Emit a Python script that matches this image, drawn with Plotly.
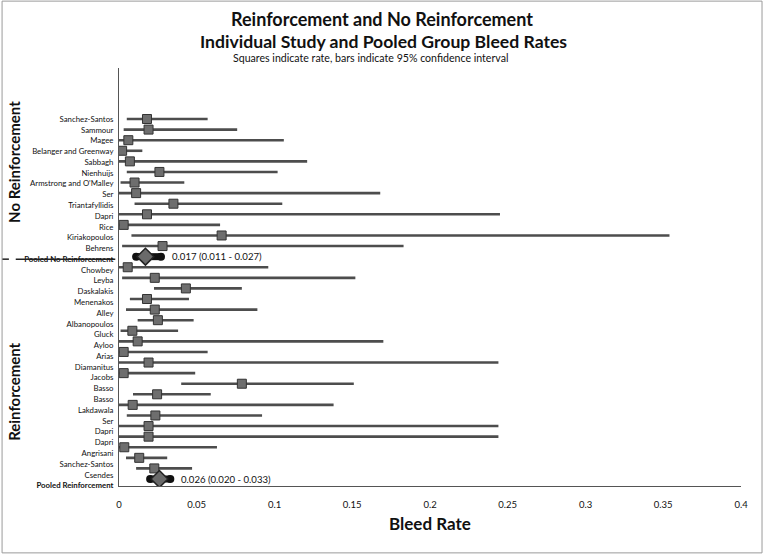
import plotly.graph_objects as go

# No Reinforcement studies (rate, 95% CI)
names_nr = [
    "Sanchez-Santos", "Sammour", "Magee", "Belanger and Greenway", "Sabbagh",
    "Nienhuijs", "Armstrong and O'Malley", "Ser", "Triantafyllidis", "Dapri",
    "Rice", "Kiriakopoulos", "Behrens",
]
rate_nr = [0.018, 0.019, 0.006, 0.002, 0.007, 0.026, 0.010, 0.011, 0.035, 0.018, 0.003, 0.066, 0.028]
lo_nr = [0.005, 0.003, 0.000, 0.000, 0.000, 0.005, 0.001, 0.000, 0.010, 0.000, 0.000, 0.008, 0.002]
hi_nr = [0.057, 0.076, 0.106, 0.015, 0.121, 0.102, 0.042, 0.168, 0.105, 0.245, 0.065, 0.354, 0.183]
pooled_nr = (0.017, 0.011, 0.027)

# Reinforcement studies (rate, 95% CI)
names_r = [
    "Chowbey", "Leyba", "Daskalakis", "Menenakos", "Alley", "Albanopoulos",
    "Gluck", "Ayloo", "Arias", "Diamanitus", "Jacobs", "Basso", "Basso",
    "Lakdawala", "Ser", "Dapri", "Dapri", "Angrisani", "Sanchez-Santos", "Csendes",
]
rate_r = [0.0056, 0.023, 0.043, 0.018, 0.023, 0.025, 0.0086, 0.012, 0.003, 0.019,
          0.003, 0.079, 0.0245, 0.0088, 0.0234, 0.019, 0.019, 0.0034, 0.013, 0.0227]
lo_r = [0.000, 0.002, 0.0225, 0.007, 0.0045, 0.012, 0.001, 0.000, 0.000, 0.000,
        0.000, 0.040, 0.009, 0.000, 0.005, 0.000, 0.000, 0.000, 0.0045, 0.011]
hi_r = [0.096, 0.152, 0.079, 0.045, 0.089, 0.048, 0.038, 0.170, 0.057, 0.244,
        0.049, 0.151, 0.059, 0.138, 0.092, 0.244, 0.244, 0.063, 0.031, 0.047]
pooled_r = (0.026, 0.020, 0.033)

x_ticks = [0, 0.05, 0.1, 0.15, 0.2, 0.25, 0.3, 0.35, 0.4]

FONT = "Lato, 'Open Sans', sans-serif"


def build_figure() -> go.Figure:
    """Forest plot of bleed rates for both groups."""
    labels = names_nr + ["<b>Pooled No Reinforcement</b>"] + names_r + ["<b>Pooled Reinforcement</b>"]
    n = len(labels)

    rows_nr = list(range(len(names_nr)))
    row_pool_nr = len(names_nr)
    rows_r = [row_pool_nr + 1 + i for i in range(len(names_r))]
    row_pool_r = rows_r[-1] + 1

    rows = rows_nr + rows_r
    rates = rate_nr + rate_r
    los = lo_nr + lo_r
    his = hi_nr + hi_r

    # category labels drift slightly below the plotted rows, as in the original
    stretch = (n - 1 + 0.62) / (n - 1)
    tick_pos = [i * stretch for i in range(n)]

    fig = go.Figure()

    # confidence interval bars
    bx, by = [], []
    for r, lo, hi in zip(rows, los, his):
        bx += [lo, hi, None]
        by += [r, r, None]
    fig.add_trace(go.Scatter(x=bx, y=by, mode="lines",
                             line={"color": "#4d4d4d", "width": 2.6}, hoverinfo="skip"))

    # study rates
    fig.add_trace(go.Scatter(
        x=rates, y=rows, mode="markers",
        marker={"symbol": "square", "size": 9, "color": "#6e6e6e",
                "line": {"color": "#333333", "width": 1}},
    ))

    # pooled estimates
    for row, (rate, lo, hi) in [(row_pool_nr, pooled_nr), (row_pool_r, pooled_r)]:
        fig.add_trace(go.Scatter(x=[lo, hi], y=[row, row], mode="lines+markers",
                                 line={"color": "#111111", "width": 7},
                                 marker={"symbol": "circle", "size": 8, "color": "#111111"},
                                 hoverinfo="skip"))
        fig.add_trace(go.Scatter(
            x=[rate], y=[row], mode="markers",
            marker={"symbol": "diamond", "size": 13, "color": "#6a6a6a",
                    "line": {"color": "#222222", "width": 1.5}},
        ))
        fig.add_annotation(x=hi + 0.0055, y=row, xref="x", yref="y",
                           text=f"{rate:.3f} ({lo:.3f} - {hi:.3f})", showarrow=False,
                           xanchor="left", yanchor="middle",
                           font={"size": 9.6, "color": "#111111"})

    # titles
    fig.add_annotation(x=0.423, y=1.117, xref="paper", yref="paper",
                       text="<b>Reinforcement and No Reinforcement</b>", showarrow=False,
                       xanchor="center", yanchor="middle", font={"size": 18})
    fig.add_annotation(x=0.425, y=1.064, xref="paper", yref="paper",
                       text="<b>Individual Study and Pooled Group Bleed Rates</b>", showarrow=False,
                       xanchor="center", yanchor="middle", font={"size": 17.6})
    fig.add_annotation(x=0.404, y=1.024, xref="paper", yref="paper",
                       text="Squares indicate rate, bars indicate 95% confidence interval",
                       showarrow=False, xanchor="center", yanchor="middle", font={"size": 10.6})

    # group titles
    for text, yc in [("No Reinforcement", 0.775), ("Reinforcement", 0.2249)]:
        fig.add_annotation(x=-0.169, y=yc, xref="paper", yref="paper", text=f"<b>{text}</b>",
                           textangle=-90, showarrow=False, xanchor="center", yanchor="middle",
                           font={"size": 15})

    # x axis title
    fig.add_annotation(x=0.5, y=-0.0909, xref="paper", yref="paper", text="<b>Bleed Rate</b>",
                       showarrow=False, xanchor="center", yanchor="middle", font={"size": 17})

    # separator through the pooled no-reinforcement label
    ysep = tick_pos[row_pool_nr]
    fig.add_shape(type="line", xref="paper", yref="y", x0=-0.188, x1=-0.177, y0=ysep, y1=ysep,
                  line={"color": "#222222", "width": 1.5})
    fig.add_shape(type="line", xref="paper", yref="y", x0=-0.166, x1=-0.006, y0=ysep, y1=ysep,
                  line={"color": "#222222", "width": 1.5})

    # outer frame
    fig.add_shape(type="rect", xref="paper", yref="paper", x0=-0.188, x1=1.0338, y0=-0.160, y1=1.160,
                  line={"color": "#9a9a9a", "width": 1})

    fig.update_layout(
        width=767,
        height=557,
        margin={"l": 119, "r": 26, "t": 68, "b": 71},
        paper_bgcolor="white",
        plot_bgcolor="white",
        showlegend=False,
        font={"family": FONT, "color": "#111111"},
        xaxis={
            "range": [0, 0.4],
            "tickvals": x_ticks,
            "ticktext": [f"{v:g}" for v in x_ticks],
            "showgrid": False,
            "zeroline": False,
            "showline": True,
            "linecolor": "#555555",
            "linewidth": 1,
            "ticks": "",
            "ticklabelstandoff": 10,
            "tickfont": {"size": 9.5},
        },
        yaxis={
            "range": [34.66, -4.817],
            "tickvals": tick_pos,
            "ticktext": labels,
            "showgrid": False,
            "zeroline": False,
            "showline": True,
            "linecolor": "#555555",
            "linewidth": 1,
            "ticks": "",
            "ticklabelstandoff": 3,
            "tickfont": {"size": 7.8},
        },
    )
    return fig


fig = build_figure()
fig.write_html(
    "out.html",
    config={"displayModeBar": False},
    post_script="document.body.style.margin = '0';",
)
